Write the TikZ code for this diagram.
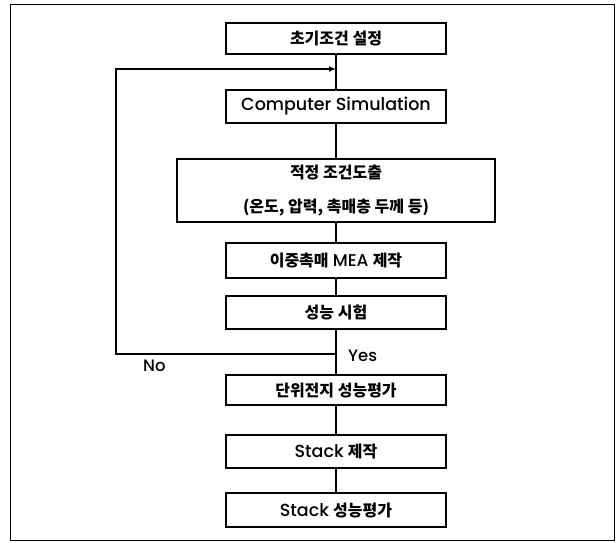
\documentclass[tikz,border=0pt]{standalone}
\usepackage{fontspec}
\setmainfont{Poppins}[UprightFont=* Medium]
\newfontfamily\kr{Noto Sans CJK KR}
\usetikzlibrary{arrows.meta}
\newcommand{\ko}[1]{{\kr\bfseries #1}}
\tikzset{
  stepbox/.style={draw, line width=1.6pt, inner sep=0pt, minimum width=220pt,
    font=\fontsize{16}{34}\selectfont, align=center},
  link/.style={line width=1.6pt},
  tag/.style={inner sep=0pt, font=\fontsize{16.5}{18}\selectfont}
}
\begin{document}
\begin{tikzpicture}[x=1pt,y=-1pt]
\useasboundingbox (0,0) rectangle (616,542);
% outer frame
\draw[line width=0.9pt] (10,4) rectangle (614,540);

% process steps
\node[stepbox, minimum height=31pt] (b1) at (336,38.5) {\ko{초기조건 설정}};
\node[stepbox, minimum height=33pt] (b2) at (336,106.5) {\fontsize{17.5}{20}\selectfont Computer Simulation};
\node[stepbox, minimum width=318pt, minimum height=63pt] (b3) at (336,190.5)
  {\ko{적정 조건도출}\\\ko{(온도,\ 압력,\ 촉매층 두께 등)}};
\node[stepbox, minimum height=35pt] (b4) at (336,260.5) {\ko{이중촉매} {\fontsize{17}{20}\selectfont MEA} \ko{제작}};
\node[stepbox, minimum height=33pt] (b5) at (336,312.5) {\ko{성능 시험}};
\node[stepbox, minimum height=30pt] (b6) at (336,390) {\ko{단위전지 성능평가}};
\node[stepbox, minimum height=33pt] (b7) at (336,451.5) {{\fontsize{17.5}{20}\selectfont Stack} \ko{제작}};
\node[stepbox, minimum height=34pt] (b8) at (336,510) {{\fontsize{17.5}{20}\selectfont Stack} \ko{성능평가}};

% junction points of the feedback loop
\coordinate (top) at (336,69);
\coordinate (split) at (336,354);
\coordinate (cl) at (116,354);
\coordinate (ct) at (116,69);

% main flow
\draw[link] (b1.south) -- (b2.north);
\draw[link] (b2.south) -- (b3.north);
\draw[link] (b3.south) -- (b4.north);
\draw[link] (b4.south) -- (b5.north);
\draw[link] (b5.south) -- (b6.north);
\draw[link] (b6.south) -- (b7.north);
\draw[link] (b7.south) -- (b8.north);

% feedback loop
\draw[link, -{Latex[length=7pt,width=6pt]}] (split) -- (cl) -- (ct) -- (top);

% branch labels
\node[tag, anchor=west] (yes) at (348,356) {Yes};
\node[tag, anchor=west] (no) at (143,366) {No};
\end{tikzpicture}
\end{document}
